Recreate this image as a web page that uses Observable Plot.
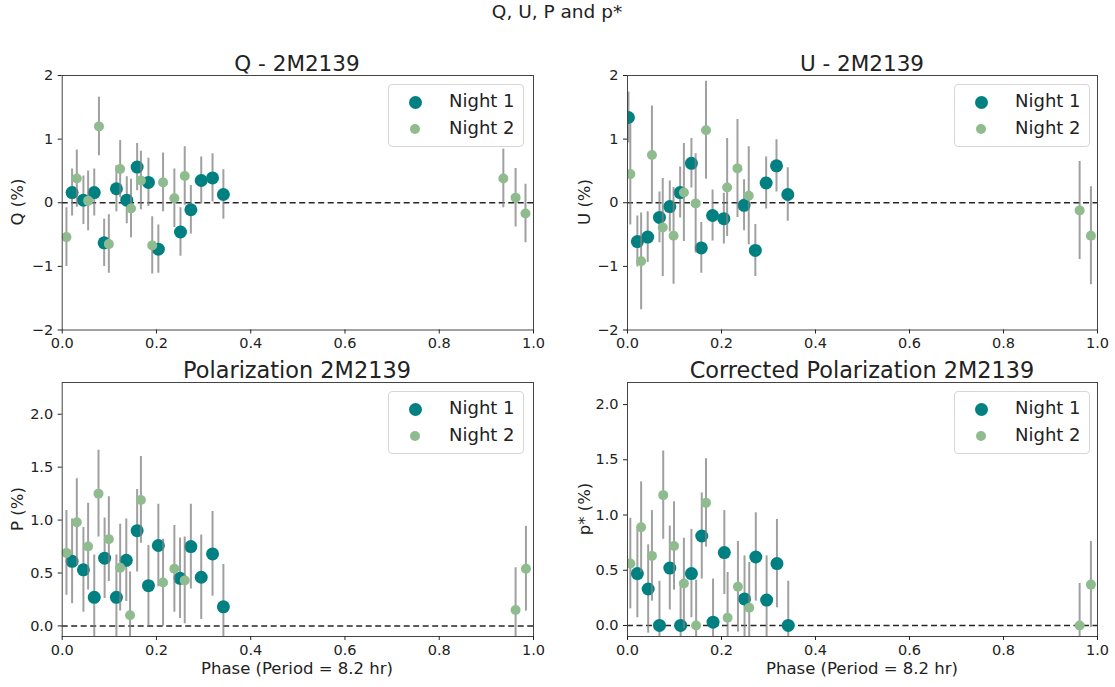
<!DOCTYPE html>
<html>
<head>
<meta charset="utf-8">
<script src="https://cdn.jsdelivr.net/npm/d3@7"></script>
<script src="https://cdn.jsdelivr.net/npm/@observablehq/plot@0.6"></script>
<style>
  html, body { margin: 0; padding: 0; background: #fff; }
  #root { position: relative; width: 1115px; height: 687px; overflow: hidden; font-family: "DejaVu Sans", sans-serif; color: #222; }
  .abs { position: absolute; }
  .txt { position: absolute; line-height: 1; white-space: nowrap; }
  .ylab { position: absolute; line-height: 1; white-space: nowrap; transform: translate(-50%, -50%) rotate(-90deg); font-size: 16.5px; }
  .legend { position: absolute; width: 134px; height: 61px; border: 1px solid #d6d6d6; border-radius: 4px; background: rgba(255,255,255,0.85); }
  .lm { position: absolute; border-radius: 50%; }
  .lt { position: absolute; font-size: 18px; line-height: 1; white-space: nowrap; }
</style>
</head>
<body>
<div id="root"></div>
<script>
// ---------- data ----------
const xTicks = [0, 0.2, 0.4, 0.6, 0.8, 1.0];
const quTicks = [-2, -1, 0, 1, 2];
const pTicks = [0, 0.5, 1.0, 1.5, 2.0];
const seriesNames = ["Night 1", "Night 2"];
const panelTitles = ["Q - 2M2139", "U - 2M2139", "Polarization 2M2139", "Corrected Polarization 2M2139"];
const yLabels = ["Q (%)", "U (%)", "P (%)", "p* (%)"];
const xLabel = "Phase (Period = 8.2 hr)";
const figTitle = "Q, U, P and p*";

// Q
const qPhaseN1 = [0.021,0.045,0.068,0.089,0.115,0.137,0.159,0.183,0.204,0.251,0.273,0.295,0.319,0.342];
const qN1      = [0.16,0.04,0.16,-0.63,0.22,0.04,0.56,0.32,-0.73,-0.46,-0.11,0.35,0.39,0.13];
const qErrN1   = [0.37,0.38,0.37,0.37,0.36,0.37,0.37,0.38,0.38,0.38,0.38,0.37,0.38,0.39];
const qPhaseN2 = [0.009,0.031,0.055,0.078,0.099,0.123,0.146,0.167,0.191,0.214,0.238,0.260,0.936,0.962,0.983];
const qN2      = [-0.54,0.38,0.03,1.20,-0.65,0.53,-0.09,0.35,-0.67,0.32,0.07,0.42,0.38,0.08,-0.17];
const qErrN2   = [0.46,0.45,0.47,0.46,0.46,0.45,0.46,0.46,0.45,0.46,0.46,0.46,0.46,0.46,0.46];

// U
const uPhaseN1 = [0.002,0.021,0.043,0.068,0.090,0.112,0.136,0.157,0.181,0.205,0.248,0.272,0.295,0.317,0.341];
const uN1      = [1.34,-0.61,-0.54,-0.23,-0.06,0.16,0.62,-0.71,-0.20,-0.25,-0.04,-0.75,0.31,0.58,0.13];
const uErrN1   = [0.40,0.40,0.40,0.40,0.40,0.40,0.39,0.40,0.40,0.40,0.40,0.41,0.41,0.41,0.42];
const uPhaseN2 = [0.006,0.029,0.052,0.075,0.098,0.120,0.145,0.167,0.212,0.234,0.258,0.962,0.986];
const uN2      = [0.45,-0.92,0.75,-0.39,-0.52,0.16,-0.01,1.14,0.24,0.54,0.11,-0.12,-0.52];
const uErrN2   = [0.80,0.76,0.77,0.77,0.76,0.77,0.78,0.77,0.77,0.77,0.77,0.77,0.77];

// P
const pPhaseN1 = [0.021,0.045,0.068,0.090,0.115,0.136,0.159,0.183,0.204,0.250,0.273,0.295,0.319,0.342];
const pN1      = [0.61,0.53,0.27,0.64,0.27,0.62,0.90,0.38,0.76,0.45,0.75,0.46,0.68,0.18];
const pErrN1   = [0.40,0.40,0.40,0.38,0.40,0.39,0.39,0.38,0.39,0.38,0.40,0.40,0.40,0.40];
const pPhaseN2 = [0.009,0.031,0.055,0.077,0.099,0.123,0.144,0.167,0.214,0.238,0.260,0.962,0.984];
const pN2      = [0.69,0.98,0.75,1.25,0.82,0.55,0.10,1.19,0.41,0.54,0.43,0.15,0.54];
const pErrN2   = [0.40,0.41,0.41,0.41,0.40,0.41,0.41,0.41,0.41,0.41,0.41,0.40,0.40];

// p*
const psPhaseN1 = [0.021,0.044,0.068,0.090,0.113,0.136,0.158,0.182,0.206,0.249,0.273,0.296,0.318,0.342];
const psN1      = [0.47,0.33,0.00,0.52,0.00,0.47,0.81,0.03,0.66,0.24,0.62,0.23,0.56,0.00];
const psErrN1   = [0.40,0.40,0.40,0.38,0.40,0.40,0.39,0.39,0.38,0.39,0.40,0.40,0.40,0.40];
const psPhaseN2 = [0.006,0.029,0.052,0.076,0.099,0.120,0.146,0.167,0.213,0.235,0.259,0.962,0.986];
const psN2      = [0.56,0.89,0.63,1.18,0.72,0.38,0.00,1.11,0.07,0.35,0.16,0.00,0.37];
const psErrN2   = [0.41,0.41,0.41,0.40,0.40,0.41,0.41,0.40,0.41,0.41,0.41,0.38,0.39];

// ---------- drawing ----------
const C1 = "#008080", C2 = "#8fbc8f";
const root = document.getElementById("root");

function rows(xs, ys, es) {
  return xs.map((x, i) => ({x, y: ys[i], lo: ys[i] - es[i], hi: ys[i] + es[i]}));
}
const fmtInt = d => (d < 0 ? "\u2212" : "") + Math.abs(d);
const fmt1 = d => d.toFixed(1);

function panel(o) {
  const d1 = rows(o.x1, o.y1, o.e1), d2 = rows(o.x2, o.y2, o.e2);
  const svg = Plot.plot({
    width: o.width, height: o.height,
    marginLeft: o.ml, marginRight: o.mr, marginTop: 5, marginBottom: o.mb,
    style: {fontFamily: "'DejaVu Sans', sans-serif", fontSize: "14.5px", color: "#222", background: "transparent", overflow: "visible"},
    x: {domain: [0, 1]},
    y: {domain: o.yDomain},
    marks: [
      Plot.ruleY([0], {stroke: "#262626", strokeWidth: 1.5, strokeDasharray: "6,3.5"}),
      Plot.ruleX(d1, {x: "x", y1: "lo", y2: "hi", stroke: "#808080", strokeOpacity: 0.75, strokeWidth: 2, clip: true}),
      Plot.dot(d1, {x: "x", y: "y", r: 6.5, fill: C1, clip: true}),
      Plot.ruleX(d2, {x: "x", y1: "lo", y2: "hi", stroke: "#808080", strokeOpacity: 0.75, strokeWidth: 2, clip: true}),
      Plot.dot(d2, {x: "x", y: "y", r: 5, fill: C2, clip: true}),
      Plot.frame({stroke: "#444", strokeWidth: 1}),
      Plot.axisX({ticks: xTicks, tickFormat: fmt1, tickSize: 4, tickPadding: 4, label: null}),
      Plot.axisY({ticks: o.yTicks, tickFormat: o.yFmt, tickSize: 4, tickPadding: 5, label: null})
    ]
  });
  svg.classList.add("abs");
  svg.style.left = o.left + "px";
  svg.style.top = o.top + "px";
  root.appendChild(svg);
}

function addText(cls, text, css) {
  const el = document.createElement("div");
  el.className = cls;
  el.textContent = text;
  Object.assign(el.style, css);
  root.appendChild(el);
  return el;
}

function legend(left, top) {
  const box = document.createElement("div");
  box.className = "legend";
  box.style.left = left + "px";
  box.style.top = top + "px";
  const m1 = document.createElement("div");
  m1.className = "lm";
  Object.assign(m1.style, {left: (26 - 6.5) + "px", top: (17 - 6.5) + "px", width: "13px", height: "13px", background: C1});
  const m2 = document.createElement("div");
  m2.className = "lm";
  Object.assign(m2.style, {left: (26 - 5) + "px", top: (44 - 5) + "px", width: "10px", height: "10px", background: C2});
  box.appendChild(m1); box.appendChild(m2);
  const t1 = document.createElement("div"); t1.className = "lt"; t1.textContent = seriesNames[0];
  Object.assign(t1.style, {left: "60px", top: "7px"});
  const t2 = document.createElement("div"); t2.className = "lt"; t2.textContent = seriesNames[1];
  Object.assign(t2.style, {left: "60px", top: "34px"});
  box.appendChild(t1); box.appendChild(t2);
  root.appendChild(box);
}

const L = {left: 0, width: 557, ml: 61.7, mr: 24};
const R = {left: 557, width: 558, ml: 70, mr: 18};
const T = {top: 70, height: 290, mb: 30.5};
const B = {top: 377, height: 310, mb: 51};

panel({...L, ...T, x1: qPhaseN1, y1: qN1, e1: qErrN1, x2: qPhaseN2, y2: qN2, e2: qErrN2, yDomain: [-2, 2], yTicks: quTicks, yFmt: fmtInt});
panel({...R, ...T, x1: uPhaseN1, y1: uN1, e1: uErrN1, x2: uPhaseN2, y2: uN2, e2: uErrN2, yDomain: [-2, 2], yTicks: quTicks, yFmt: fmtInt});
panel({...L, ...B, x1: pPhaseN1, y1: pN1, e1: pErrN1, x2: pPhaseN2, y2: pN2, e2: pErrN2, yDomain: [-0.1, 2.3], yTicks: pTicks, yFmt: fmt1});
panel({...R, ...B, x1: psPhaseN1, y1: psN1, e1: psErrN1, x2: psPhaseN2, y2: psN2, e2: psErrN2, yDomain: [-0.1, 2.2], yTicks: pTicks, yFmt: fmt1});

// titles
addText("txt", figTitle, {fontSize: "18.5px", top: "3px", left: "557px", transform: "translateX(-50%)"});
const titleCenters = [297, 862, 297, 862];
const titleTops = [53, 53, 358.5, 358.5];
const titleSizes = [21.5, 21.5, 22.4, 22.4];
panelTitles.forEach((t, i) => addText("txt", t, {fontSize: titleSizes[i] + "px", top: titleTops[i] + "px", left: titleCenters[i] + "px", transform: "translateX(-50%)"}));

// axis labels
const yLabPos = [[18, 202], [585, 202], [18, 509], [585, 509]];
yLabels.forEach((t, i) => addText("ylab", t, {left: yLabPos[i][0] + "px", top: yLabPos[i][1] + "px"}));
[297, 862].forEach(cx => addText("txt", xLabel, {fontSize: "16.5px", top: "661px", left: cx + "px", transform: "translateX(-50%)"}));

// legends
legend(388, 84);
legend(954, 84);
legend(388, 391);
legend(954, 391);
</script>
</body>
</html>
